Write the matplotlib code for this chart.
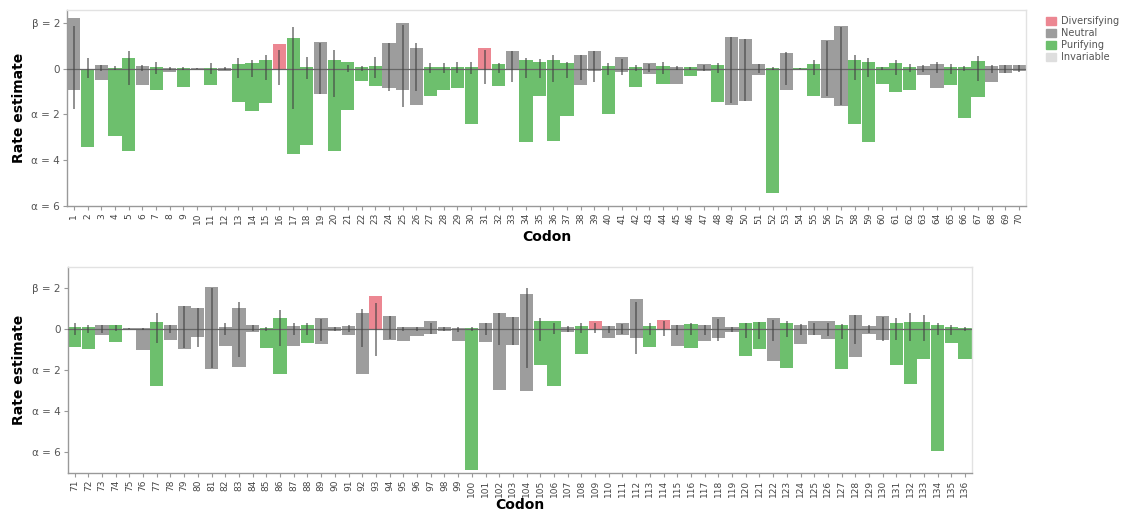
import matplotlib
matplotlib.use("Agg")
import matplotlib.pyplot as plt
from matplotlib.patches import Patch
import numpy as np

# ── data ──────────────────────────────────────────────────────────────────
codons = list(range(1, 137))

# D = diversifying, N = neutral, P = purifying, I = invariable
category = [
    "N", "P", "N", "P", "P", "N", "P", "N", "P", "N",    # 1-10
    "P", "N", "P", "P", "P", "D", "P", "P", "N", "P",    # 11-20
    "P", "P", "P", "N", "N", "N", "P", "P", "P", "P",    # 21-30
    "D", "P", "N", "P", "P", "P", "P", "N", "N", "P",    # 31-40
    "N", "P", "N", "P", "N", "P", "N", "P", "N", "N",    # 41-50
    "N", "P", "N", "P", "P", "N", "N", "P", "P", "P",    # 51-60
    "P", "P", "N", "N", "P", "P", "P", "N", "N", "N",    # 61-70
    "P", "P", "N", "P", "N", "N", "P", "N", "N", "N",    # 71-80
    "N", "N", "N", "N", "P", "P", "N", "P", "N", "N",    # 81-90
    "N", "N", "D", "N", "N", "N", "N", "N", "N", "P",    # 91-100
    "N", "N", "N", "N", "P", "P", "N", "P", "D", "N",    # 101-110
    "N", "N", "P", "D", "N", "P", "N", "N", "N", "P",    # 111-120
    "P", "N", "P", "N", "N", "N", "P", "N", "N", "N",    # 121-130
    "P", "P", "P", "P", "P", "P",                        # 131-136
]

beta = [
    2.19, 0.00, 0.15, 0.02, 0.47, 0.12, 0.05, 0.03, 0.02, 0.02,
    0.02, 0.02, 0.19, 0.25, 0.39, 1.05, 1.31, 0.05, 1.14, 0.39,
    0.29, 0.05, 0.10, 1.12, 2.00, 0.90, 0.05, 0.05, 0.05, 0.05,
    0.90, 0.20, 0.76, 0.35, 0.30, 0.35, 0.25, 0.58, 0.77, 0.10,
    0.50, 0.05, 0.25, 0.10, 0.05, 0.05, 0.20, 0.15, 1.36, 1.27,
    0.20, 0.02, 0.66, 0.02, 0.20, 1.24, 1.85, 0.39, 0.30, 0.05,
    0.25, 0.05, 0.10, 0.20, 0.05, 0.05, 0.32, 0.10, 0.15, 0.15,
    0.10, 0.10, 0.19, 0.19, 0.02, 0.05, 0.32, 0.20, 1.13, 1.00,
    2.05, 0.10, 1.03, 0.20, 0.05, 0.52, 0.15, 0.20, 0.55, 0.10,
    0.15, 0.76, 1.62, 0.65, 0.10, 0.10, 0.36, 0.10, 0.05, 0.02,
    0.30, 0.76, 0.57, 1.70, 0.36, 0.36, 0.10, 0.15, 0.36, 0.15,
    0.30, 1.44, 0.15, 0.44, 0.20, 0.25, 0.20, 0.60, 0.10, 0.30,
    0.35, 0.52, 0.30, 0.20, 0.39, 0.36, 0.20, 0.68, 0.15, 0.63,
    0.30, 0.35, 0.35, 0.20, 0.10, 0.05,
]

alpha = [
    0.95, 3.43, 0.50, 2.94, 3.60, 0.73, 0.95, 0.15, 0.80, 0.05,
    0.73, 0.10, 1.46, 1.85, 1.50, 0.00, 3.75, 3.32, 1.12, 3.60,
    1.80, 0.55, 0.77, 0.83, 0.95, 1.60, 1.20, 0.95, 0.83, 2.43,
    0.00, 0.77, 0.05, 3.20, 1.21, 3.15, 2.08, 0.70, 0.10, 2.00,
    0.15, 0.80, 0.25, 0.66, 0.66, 0.33, 0.12, 1.46, 1.60, 1.43,
    0.30, 5.44, 0.95, 0.05, 1.21, 1.27, 1.65, 2.43, 3.20, 0.69,
    1.02, 0.95, 0.30, 0.87, 0.73, 2.14, 1.24, 0.58, 0.20, 0.10,
    0.89, 0.99, 0.29, 0.66, 0.02, 1.02, 2.76, 0.53, 0.99, 0.40,
    1.95, 0.82, 1.86, 0.13, 0.94, 2.18, 0.82, 0.69, 0.74, 0.10,
    0.29, 2.20, 0.00, 0.53, 0.57, 0.34, 0.24, 0.10, 0.57, 6.87,
    0.66, 2.96, 0.78, 3.04, 1.75, 2.76, 0.13, 1.21, 0.00, 0.42,
    0.29, 0.45, 0.86, 0.00, 0.82, 0.94, 0.57, 0.45, 0.15, 1.34,
    0.99, 1.58, 1.90, 0.73, 0.29, 0.50, 1.95, 1.37, 0.24, 0.53,
    1.75, 2.67, 1.45, 5.95, 0.69, 1.45,
]

# error bar extent above / below zero
err_up = [
    1.85, 0.45, 0.15, 0.10, 0.75, 0.15, 0.30, 0.05, 0.08, 0.03,
    0.25, 0.05, 0.45, 0.35, 0.60, 0.80, 1.82, 0.50, 1.10, 0.80,
    0.15, 0.10, 0.48, 1.10, 1.90, 1.10, 0.25, 0.25, 0.30, 0.30,
    0.80, 0.25, 0.76, 0.45, 0.40, 0.60, 0.30, 0.58, 0.77, 0.25,
    0.40, 0.15, 0.20, 0.30, 0.10, 0.08, 0.15, 0.25, 1.36, 1.27,
    0.20, 0.08, 0.70, 0.03, 0.35, 1.20, 1.82, 0.60, 0.45, 0.05,
    0.35, 0.20, 0.15, 0.30, 0.20, 0.10, 0.55, 0.15, 0.15, 0.15,
    0.30, 0.20, 0.20, 0.20, 0.02, 0.05, 0.75, 0.20, 1.10, 1.00,
    2.00, 0.30, 1.30, 0.20, 0.10, 0.90, 0.30, 0.30, 0.50, 0.10,
    0.20, 0.95, 1.24, 0.65, 0.10, 0.10, 0.30, 0.10, 0.10, 0.10,
    0.30, 0.76, 0.60, 1.97, 0.55, 0.30, 0.15, 0.30, 0.30, 0.15,
    0.25, 1.30, 0.30, 0.40, 0.20, 0.30, 0.20, 0.50, 0.10, 0.30,
    0.35, 0.45, 0.40, 0.25, 0.30, 0.30, 0.25, 0.70, 0.20, 0.60,
    0.55, 0.78, 0.70, 0.30, 0.20, 0.10,
]

err_dn = [
    1.75, 0.40, 0.10, 0.05, 0.70, 0.10, 0.25, 0.05, 0.05, 0.03,
    0.25, 0.05, 0.40, 0.35, 0.50, 0.73, 1.75, 0.44, 1.10, 1.24,
    0.15, 0.10, 0.40, 1.00, 1.68, 1.00, 0.20, 0.20, 0.20, 0.25,
    0.67, 0.20, 0.60, 0.40, 0.40, 0.60, 0.40, 0.50, 0.60, 0.30,
    0.30, 0.10, 0.15, 0.25, 0.05, 0.05, 0.10, 0.20, 1.50, 1.43,
    0.20, 0.05, 0.70, 0.03, 0.30, 1.20, 1.60, 0.50, 0.35, 0.05,
    0.30, 0.15, 0.15, 0.20, 0.25, 0.10, 0.55, 0.20, 0.20, 0.15,
    0.30, 0.20, 0.20, 0.10, 0.02, 0.05, 0.70, 0.20, 0.95, 0.90,
    1.90, 0.30, 1.35, 0.10, 0.10, 0.85, 0.30, 0.30, 0.60, 0.10,
    0.15, 0.90, 1.34, 0.50, 0.10, 0.10, 0.25, 0.10, 0.15, 0.10,
    0.30, 0.76, 0.80, 1.90, 0.60, 0.25, 0.15, 0.20, 0.20, 0.20,
    0.25, 1.20, 0.30, 0.35, 0.30, 0.30, 0.30, 0.60, 0.15, 0.45,
    0.50, 0.60, 0.40, 0.30, 0.30, 0.35, 0.50, 0.75, 0.20, 0.60,
    0.55, 0.60, 0.60, 0.30, 0.30, 0.10,
]

legend_labels = ["Diversifying", "Neutral", "Purifying", "Invariable"]
colors = {"D": "#ec8792", "N": "#9d9d9d", "P": "#6dbf6d", "I": "#dedede"}

ytick_vals = [2, 0, -2, -4, -6]
ytick_text = ["β = 2", "0", "α = 2", "α = 4", "α = 6"]

SPLIT = 70  # first panel holds codons 1..70

plt.rcParams.update({
    "font.family": "DejaVu Sans",
    "axes.grid": False,
})

fig = plt.figure(figsize=(11.25, 5.13), dpi=100)
ax_top = fig.add_axes([0.0596, 0.5984, 0.8524, 0.382])
ax_bot = fig.add_axes([0.0602, 0.0786, 0.8036, 0.4004])


def draw_panel(ax, lo, hi, ylim, xlabelpad):
    idx = np.arange(lo, hi)
    x = np.arange(len(idx))
    cols = [colors[category[i]] for i in idx]
    b = np.array(beta)[idx]
    a = np.array(alpha)[idx]

    ax.bar(x, b, width=0.96, color=cols, zorder=2)
    ax.bar(x, -a, width=0.96, color=cols, zorder=2)
    ax.axhline(0, color="#666666", lw=0.9, zorder=3)
    ax.vlines(x, -np.array(err_dn)[idx], np.array(err_up)[idx],
              color="#444444", lw=1.1, alpha=0.75, zorder=4)

    ax.set_xlim(-0.5, len(idx) - 0.5)
    ax.set_ylim(*ylim)
    ax.set_xticks(x)
    ax.set_xticklabels([str(codons[i]) for i in idx], rotation=90,
                       fontsize=6.5, color="#444444")
    ax.set_yticks(ytick_vals)
    ax.set_yticklabels(ytick_text, fontsize=7.5, color="#555555")
    ax.tick_params(axis="both", length=3, width=0.8, color="#999999", pad=2)

    for side in ("left", "bottom"):
        ax.spines[side].set_color("#999999")
        ax.spines[side].set_linewidth(1.0)
    for side in ("top", "right"):
        ax.spines[side].set_color("#e2e2e2")
        ax.spines[side].set_linewidth(1.0)

    ax.set_xlabel("Codon", fontsize=10, fontweight="bold", labelpad=xlabelpad)
    ax.set_ylabel("Rate estimate", fontsize=10, fontweight="bold", labelpad=4)


draw_panel(ax_top, 0, SPLIT, (-6, 2.55), 4)
draw_panel(ax_bot, SPLIT, len(codons), (-7, 3), 1)

handles = [Patch(color=colors[k]) for k in ("D", "N", "P", "I")]
fig.legend(handles, legend_labels, loc="upper left",
           bbox_to_anchor=(0.922, 0.985), frameon=False, fontsize=7,
           handlelength=1.0, handleheight=1.0, handletextpad=0.5,
           labelspacing=0.2, labelcolor="#555555")

fig.savefig("out.png", dpi=100)
